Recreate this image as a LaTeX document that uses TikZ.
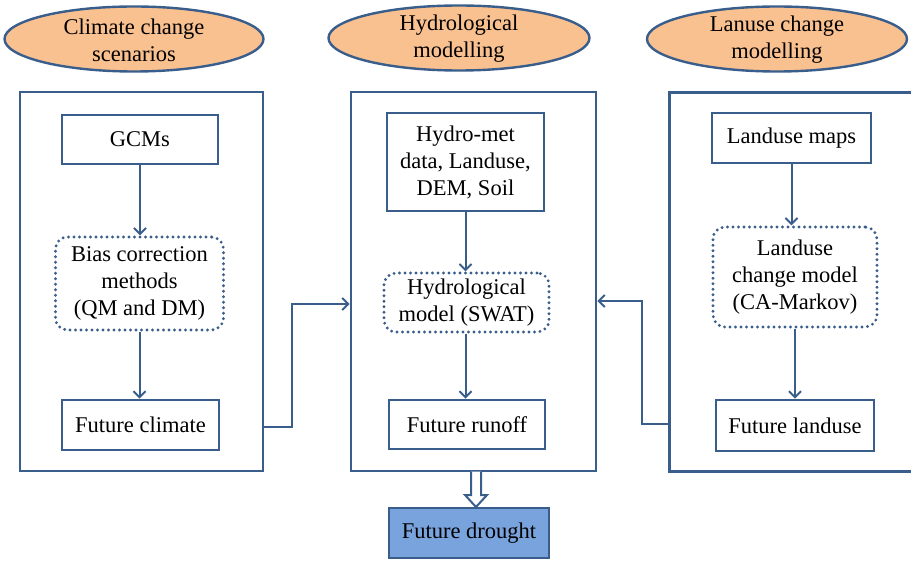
\documentclass[tikz,border=0pt]{standalone}
\usepackage{fontspec}
\setmainfont{Liberation Serif}
\usetikzlibrary{arrows.meta,shapes.geometric}
\definecolor{bord}{RGB}{58,94,140}
\definecolor{ellfill}{RGB}{249,192,144}
\definecolor{dfill}{RGB}{121,163,221}
\tikzset{
  txt/.style={font=\fontsize{22.5}{27}\selectfont, align=center, inner sep=0pt},
  ellbox/.style={ellipse, draw=bord, fill=ellfill, line width=2.4pt, inner sep=0pt},
  bigbox/.style={rectangle, draw=bord, line width=2.8pt, inner sep=0pt},
  solidbox/.style={txt, rectangle, draw=bord, line width=2.8pt, fill=white},
  dotbox/.style={txt, rectangle, rounded corners=12pt, draw=bord, line width=3.2pt,
     dash pattern=on 0pt off 5.5pt, line cap=round},
  arr/.style={draw=bord, line width=2pt, -{Straight Barb[length=6pt,width=12pt,line width=2pt]}},
}
\begin{document}
\begin{tikzpicture}[x=1pt,y=-1pt]
\useasboundingbox (0,0) rectangle (911,561);
% header ellipses
\node[ellbox, minimum width=259, minimum height=65] (e1) at (134,39) {};
\node[txt] (e1t) at (134,40) {Climate change\\scenarios};
\node[ellbox, minimum width=261, minimum height=65] (e2) at (459,38) {};
\node[txt] (e2t) at (459,39) {Hydrological\\modelling};
\node[ellbox, minimum width=260, minimum height=65] (e3) at (777,39) {};
\node[txt] (e3t) at (777,40) {Lanuse change\\modelling};
% big boxes
\node[bigbox, minimum width=243, minimum height=379] (lbox) at (141.5,281.5) {};
\node[bigbox, minimum width=245, minimum height=379] (mbox) at (473.5,281.5) {};
\node[rectangle, inner sep=0pt, minimum width=245, minimum height=378] (rbox) at (792.5,282) {};
\draw[bord, line width=2.8pt] (rbox.north west) ++(245,0) -- (rbox.north west) -- (rbox.south west) -- ++(245,0);
% left column
\node[solidbox, minimum width=156, minimum height=49] (gcm) at (140,139.5) {GCMs};
\node[dotbox, minimum width=168, minimum height=93] (bias) at (139.5,283.5) {Bias correction\\methods\\(QM and DM)};
\node[solidbox, minimum width=157, minimum height=50] (fclim) at (140.5,425) {Future climate};
% middle column
\node[solidbox, minimum width=157, minimum height=98] (hydro) at (465.5,162) {Hydro-met\\data, Landuse,\\DEM, Soil};
\node[dotbox, minimum width=165, minimum height=59] (swat) at (466.5,302.5) {Hydrological\\model (SWAT)};
\node[solidbox, minimum width=156, minimum height=49] (frun) at (467,424.5) {Future runoff};
% right column
\node[solidbox, minimum width=159, minimum height=50] (lmaps) at (791.5,138) {Landuse maps};
\node[dotbox, minimum width=164, minimum height=100] (lchange) at (795,277) {Landuse\\change model\\(CA-Markov)};
\node[solidbox, minimum width=158, minimum height=51] (fland) at (795,425.5) {Future landuse};
% output
\node[solidbox, fill=dfill, minimum width=160, minimum height=50] (drought) at (469,533) {Future drought};
% vertical arrows
\draw[arr] (gcm.south) -- (gcm.south |- bias.north);
\draw[arr] (bias.south) -- (bias.south |- fclim.north);
\draw[arr] (hydro.south) -- (hydro.south |- swat.north);
\draw[arr] (swat.south -| hydro.south) -- (hydro.south |- frun.north);
\draw[arr] (lmaps.south) -- (lmaps.south |- lchange.north);
\draw[arr] (lchange.south) -- (lchange.south |- fland.north);
% side connectors
\coordinate (c1) at (292,304);
\coordinate (c2) at (642,301);
\draw[arr] (lbox.east |- 0,427) -| (c1) -- (c1 -| mbox.west);
\draw[arr] (rbox.west |- 0,424) -| (c2) -- (c2 -| mbox.east);
% hollow double arrow
\draw[bord, line width=2pt, line join=miter, fill=white]
  (471,471.5) -- (471,495) -- (465,495) -- (476,507) -- (487,495) -- (481,495) -- (481,471.5);
\end{tikzpicture}
\end{document}
